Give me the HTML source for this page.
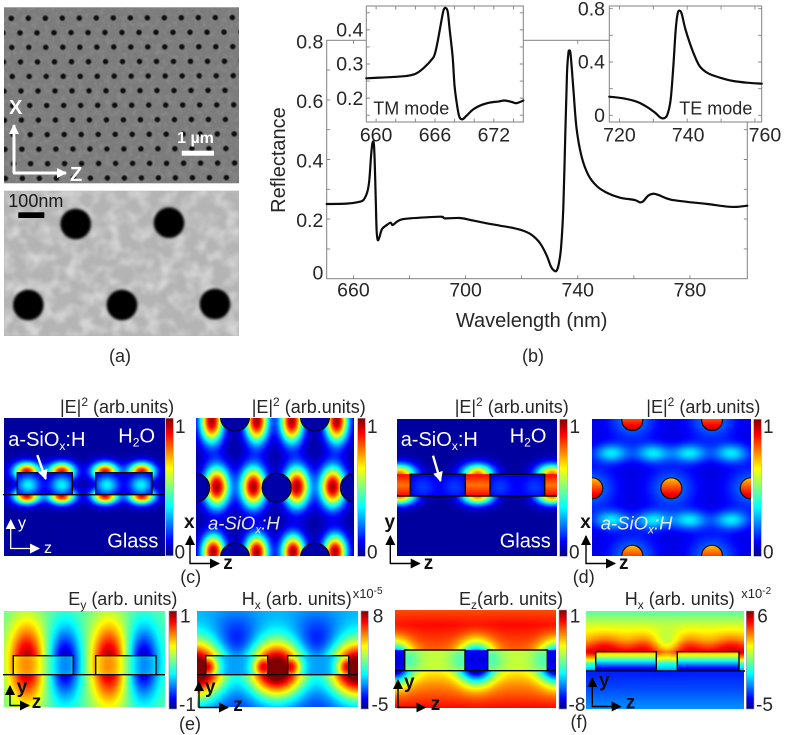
<!DOCTYPE html>
<html><head><meta charset="utf-8"><title>Reflectance and field maps</title>
<style>
html,body{margin:0;padding:0;background:#fff}
#fig{position:relative;width:798px;height:735px;overflow:hidden;background:#fff}
canvas{position:absolute;display:block}
svg{position:absolute;left:0;top:0}
text{font-family:"Liberation Sans",sans-serif;fill:#262626}
.t{font-size:18px}.w{fill:#fff;font-size:20px}.b{font-weight:bold;font-size:19px;fill:#111}
.c{font-size:19px}.cap{font-size:18px;text-anchor:middle}
</style></head>
<body>
<div id="fig">
<canvas id="c1"></canvas>
<canvas id="c2"></canvas>
<canvas id="d1"></canvas>
<canvas id="d2"></canvas>
<canvas id="e1"></canvas>
<canvas id="e2"></canvas>
<canvas id="f1"></canvas>
<canvas id="f2"></canvas>
<svg id="ov" width="798" height="735" viewBox="0 0 798 735">
<defs>
<linearGradient id="jetbar" x1="0" y1="1" x2="0" y2="0">
<stop offset="0" stop-color="#000080"/><stop offset=".11" stop-color="#0000ff"/><stop offset=".36" stop-color="#00ffff"/><stop offset=".5" stop-color="#80ff80"/><stop offset=".64" stop-color="#ffff00"/><stop offset=".89" stop-color="#ff0000"/><stop offset="1" stop-color="#800000"/>
</linearGradient>
<filter id="soft" x="-30%" y="-30%" width="160%" height="160%"><feGaussianBlur stdDeviation=".6"/></filter>
<filter id="soft2" x="-20%" y="-20%" width="140%" height="140%"><feGaussianBlur stdDeviation="1.2"/></filter>
<filter id="fine" x="0" y="0" width="100%" height="100%"><feTurbulence type="fractalNoise" baseFrequency=".18" numOctaves="2" seed="4"/><feColorMatrix values="0 0 0 0 1 0 0 0 0 1 0 0 0 0 1 1.4 0 0 0 -.6"/></filter>
<filter id="blot" x="0" y="0" width="100%" height="100%"><feTurbulence type="fractalNoise" baseFrequency=".075" numOctaves="2" seed="7"/><feColorMatrix values="0 0 0 0 1 0 0 0 0 1 0 0 0 0 1 2.6 0 0 0 -1.05"/><feGaussianBlur stdDeviation="1"/></filter>
<clipPath id="semclip"><rect x="4" y="7.3" width="235" height="176"/></clipPath>
<marker id="ahw" markerUnits="userSpaceOnUse" markerWidth="12" markerHeight="12" refX="9" refY="5" orient="auto"><path d="M0 0L10 5L0 10Z" fill="#fff"/></marker>
<marker id="ahk" markerUnits="userSpaceOnUse" markerWidth="12" markerHeight="12" refX="9" refY="5" orient="auto"><path d="M0 0L10 5L0 10Z" fill="#000"/></marker>
</defs>

<g>
<rect x="4" y="7.3" width="235" height="176" fill="#7c7c7c"/>
<rect x="4" y="7.3" width="235" height="176" filter="url(#fine)" opacity=".16"/>
<g id="semHoles" clip-path="url(#semclip)" filter="url(#soft)"></g>
<path d="M14 173V125" stroke="#fff" stroke-width="3" fill="none" marker-end="url(#ahw)"/>
<path d="M13 173H66" stroke="#fff" stroke-width="3" fill="none" marker-end="url(#ahw)"/>
<text x="9" y="114" style="fill:#fff;font-weight:bold;font-size:20px">X</text>
<text x="70" y="181" style="fill:#fff;font-weight:bold;font-size:20px">Z</text>
<text x="195.500" y="143" text-anchor="middle" style="fill:#fff;font-weight:bold;font-size:16px">1 µm</text>
<rect x="181.700" y="150.700" width="32.300" height="5" fill="#fff"/>
</g>
<g>
<rect x="4" y="190.700" width="235" height="145.300" fill="#b4b4b4"/>
<rect x="4" y="190.700" width="235" height="145.300" filter="url(#blot)" opacity=".45"/>
<g filter="url(#soft2)" fill="#060606">
<circle cx="75.700" cy="224" r="15.300"/><circle cx="169" cy="222.700" r="15.300"/><circle cx="28.300" cy="305" r="15.300"/><circle cx="122" cy="305" r="15.300"/><circle cx="215" cy="304" r="15.300"/>
</g>
<text x="8.300" y="207" style="font-size:18px;fill:#1a1a1a">100nm</text>
<rect x="18.300" y="212.300" width="26" height="5.700" fill="#000"/>
</g>
<text class="cap" x="120" y="362">(a)</text>
<text class="cap" x="533" y="362">(b)</text>

<g id="chartLayer"></g>

<!-- colour bars -->
<g stroke="#9a9ab0" stroke-width=".6">
<rect x="165.700" y="418.300" width="7.600" height="137.400" fill="url(#jetbar)"/>
<rect x="357.700" y="418.300" width="7.600" height="138" fill="url(#jetbar)"/>
<rect x="559.700" y="419.300" width="7.600" height="137" fill="url(#jetbar)"/>
<rect x="753.700" y="419.300" width="7.600" height="137" fill="url(#jetbar)"/>
<rect x="169" y="611" width="7.700" height="98" fill="url(#jetbar)"/>
<rect x="361" y="611" width="7.400" height="98" fill="url(#jetbar)"/>
<rect x="559" y="610" width="7.700" height="99" fill="url(#jetbar)"/>
<rect x="746.300" y="611" width="7.700" height="98" fill="url(#jetbar)"/>
</g>

<!-- structure outlines -->
<g fill="none" stroke="#0a0a0a" stroke-width="1.400">
<path d="M3 494.700H165M17.300 494.700V472.700H72.300V494.700M95.700 494.700V472.700H152V494.700"/>
<path d="M397 496H557M410.300 496V474.300H465.300V496M490 496V474.300H544.700V496"/>
<path d="M3 674.700H165M13.300 674.700V655.700H73.300V674.700M95.700 674.700V655.700H156V674.700"/>
<path d="M197 674.700H358M205.700 674.700V655.700H267.700V674.700M287.700 674.700V655.700H348.700V674.700"/>
<path d="M395 670.700H556M404.700 670.700V650H465V670.700M487.700 670.700V650H547.300V670.700"/>
<path d="M586 671H745M595.700 671V651.700H656.300V671M677.300 671V651.700H739V671"/>
</g>
<g id="holeOutlines" fill="none" stroke="#0a0a0a" stroke-width="1.200"></g>

<!-- panel c-side text -->
<text class="t" x="60" y="413">|E|<tspan dy="-7" font-size="12">2</tspan><tspan dy="7"> (arb.units)</tspan></text>
<text class="w" x="8.300" y="446">a-SiO<tspan dy="4" font-size="12">x</tspan><tspan dy="-4">:H</tspan></text>
<text class="w" x="118.300" y="442.300">H<tspan dy="4" font-size="12">2</tspan><tspan dy="-4">O</tspan></text>
<text class="w" x="107.300" y="547.700">Glass</text>
<path d="M37.300 455L45.700 479" stroke="#fff" stroke-width="2.400" fill="none" marker-end="url(#ahw)"/>
<path d="M10.700 549V520" stroke="#fff" stroke-width="1.300" fill="none" marker-end="url(#ahw)"/>
<path d="M10.200 548.500H39" stroke="#fff" stroke-width="1.300" fill="none" marker-end="url(#ahw)"/>
<text x="18" y="528" style="fill:#fff;font-size:16px">y</text>
<text x="44" y="553" style="fill:#fff;font-size:16px">z</text>
<text class="c" x="175" y="433">1</text>
<text class="c" x="174.500" y="558.300">0</text>

<!-- panel c-top text -->
<text class="t" x="251.700" y="413">|E|<tspan dy="-7" font-size="12">2</tspan><tspan dy="7"> (arb.units)</tspan></text>
<text x="208" y="529.300" style="fill:#e8e8ff;font-size:18.500px;font-style:italic">a-SiO<tspan dy="4" font-size="12">x</tspan><tspan dy="-4">:H</tspan></text>
<text class="b" x="184" y="528">x</text>
<text class="b" x="223.300" y="569">z</text>
<path d="M190 564V536" stroke="#000" stroke-width="1.400" fill="none" marker-end="url(#ahk)"/>
<path d="M189.500 563.500H219" stroke="#000" stroke-width="1.400" fill="none" marker-end="url(#ahk)"/>
<text class="c" x="367" y="433">1</text>
<text class="c" x="367" y="558.300">0</text>
<text class="cap" x="190.700" y="583">(c)</text>

<!-- panel d-side text -->
<text class="t" x="454.700" y="413">|E|<tspan dy="-7" font-size="12">2</tspan><tspan dy="7"> (arb.units)</tspan></text>
<text class="w" x="400.700" y="446">a-SiO<tspan dy="4" font-size="12">x</tspan><tspan dy="-4">:H</tspan></text>
<text class="w" x="509.700" y="442.700">H<tspan dy="4" font-size="12">2</tspan><tspan dy="-4">O</tspan></text>
<text class="w" x="499.700" y="547.700">Glass</text>
<path d="M433 455.700L440.500 481" stroke="#fff" stroke-width="2.400" fill="none" marker-end="url(#ahw)"/>
<text class="b" x="384.500" y="528">y</text>
<text class="b" x="423.700" y="569">z</text>
<path d="M390.300 564V536" stroke="#000" stroke-width="1.400" fill="none" marker-end="url(#ahk)"/>
<path d="M390 563.500H419.700" stroke="#000" stroke-width="1.400" fill="none" marker-end="url(#ahk)"/>
<text class="c" x="569.500" y="433">1</text>
<text class="c" x="569" y="558.300">0</text>

<!-- panel d-top text -->
<text class="t" x="646.300" y="413">|E|<tspan dy="-7" font-size="12">2</tspan><tspan dy="7"> (arb.units)</tspan></text>
<text x="600.700" y="529.300" style="fill:#e8e8ff;font-size:18.500px;font-style:italic">a-SiO<tspan dy="4" font-size="12">x</tspan><tspan dy="-4">:H</tspan></text>
<text class="b" x="580.300" y="528">x</text>
<text class="b" x="619" y="569">z</text>
<path d="M586 564V536" stroke="#000" stroke-width="1.400" fill="none" marker-end="url(#ahk)"/>
<path d="M585.500 563.500H615" stroke="#000" stroke-width="1.400" fill="none" marker-end="url(#ahk)"/>
<text class="c" x="763" y="433">1</text>
<text class="c" x="763" y="558.300">0</text>
<text class="cap" x="583.700" y="583">(d)</text>

<!-- row e -->
<text class="t" x="68.300" y="605">E<tspan dy="4" font-size="12">y</tspan><tspan dy="-4"> (arb. units)</tspan></text>
<text class="t" x="241.700" y="605">H<tspan dy="4" font-size="12">x</tspan><tspan dy="-4"> (arb. units)</tspan></text>
<text x="352.700" y="598" style="font-size:13px">x10<tspan dy="-4" font-size="10">-5</tspan></text>
<text class="c" x="180" y="622.300">1</text>
<text class="c" x="179" y="711">-1</text>
<text class="c" x="372.700" y="622.300">8</text>
<text class="c" x="371.500" y="711">-5</text>
<path d="M10 706V686" stroke="#000" stroke-width="1.400" fill="none" marker-end="url(#ahk)"/>
<path d="M9.500 705.500H29" stroke="#000" stroke-width="1.400" fill="none" marker-end="url(#ahk)"/>
<text class="b" x="16.700" y="693">y</text>
<text class="b" x="31.700" y="708">z</text>
<path d="M199 708V682" stroke="#000" stroke-width="1.400" fill="none" marker-end="url(#ahk)"/>
<path d="M198.500 707.500H228" stroke="#000" stroke-width="1.400" fill="none" marker-end="url(#ahk)"/>
<text class="b" x="205" y="693">y</text>
<text class="b" x="233.300" y="711">z</text>
<text class="cap" x="190" y="730">(e)</text>

<!-- row f -->
<text class="t" x="459" y="605">E<tspan dy="4" font-size="12">z</tspan><tspan dy="-4">(arb. units)</tspan></text>
<text class="t" x="624.700" y="605">H<tspan dy="4" font-size="12">x</tspan><tspan dy="-4"> (arb. units)</tspan></text>
<text x="741.300" y="598" style="font-size:13px">x10<tspan dy="-4" font-size="10">-2</tspan></text>
<text class="c" x="569.700" y="622.300">1</text>
<text class="c" x="568.500" y="711">-8</text>
<text class="c" x="757.300" y="622.300">6</text>
<text class="c" x="756" y="711">-5</text>
<path d="M398 708V680" stroke="#000" stroke-width="1.400" fill="none" marker-end="url(#ahk)"/>
<path d="M397.500 707.500H425.300" stroke="#000" stroke-width="1.400" fill="none" marker-end="url(#ahk)"/>
<text class="b" x="404" y="688">y</text>
<text class="b" x="430.700" y="710">z</text>
<path d="M592.300 707V678" stroke="#000" stroke-width="1.400" fill="none" marker-end="url(#ahk)"/>
<path d="M591.800 706.500H620.700" stroke="#000" stroke-width="1.400" fill="none" marker-end="url(#ahk)"/>
<text class="b" x="599" y="686.700">y</text>
<text class="b" x="625.700" y="708.300">z</text>
<text class="cap" x="579" y="728">(f)</text>
</svg>
</div>

<script>
// ---- chart data ----
const mainWavelengths = [650,657.1,661.3,663.1,664.5,665.2,665.8,666.3,666.8,667.1,667.5,667.8,668.2,668.8,669.7,671.4,672.8,673.5,675,676.7,679.7,685.7,691,692.2,697.5,702.3,707.1,711.8,716.6,720.1,723.1,726.1,728.4,730,731.1,732,732.8,733.6,734.4,735.1,735.7,736.2,736.5,737,738,739.1,740.9,743.3,746.3,749.8,754.6,759.9,761.7,762.9,764.7,766.5,768.3,772.4,778.4,785.5,792.6,796.2,800];
const mainReflectance = [.2506,.2518,.2573,.2641,.292,.331,.4095,.4543,.4543,.398,.264,.163,.13,.139,.166,.18,.188,.18,.191,.199,.2025,.206,.208,.2025,.2036,.195,.186,.178,.17,.161,.147,.119,.079,.04,.027,.027,.051,.107,.242,.488,.689,.756,.765,.751,.633,.505,.41,.348,.311,.289,.272,.264,.256,.26,.279,.285,.281,.266,.258,.251,.242,.241,.245];
const tmWavelengths = [659,660.4,661.75,663.1,664,664.8,665.7,666,666.3,666.7,666.9,667.1,667.3,667.5,667.8,668,668.3,668.5,668.8,669.2,669.9,670.75,671.6,672.45,673.1,673.8,674.25,674.7,675];
const tmReflectance = [.258,.26,.262,.265,.271,.287,.314,.331,.37,.434,.46,.464,.453,.4,.321,.234,.17,.144,.138,.148,.167,.18,.187,.19,.193,.189,.185,.189,.193];
const teWavelengths = [717,721.1,725.1,728,730.5,732,733,734.1,735.1,735.9,736.6,737.2,737.8,738.4,739.4,740.8,742.3,743.8,746.2,749.7,753.6,757.6,762];
const teReflectance = [.14,.1275,.1025,.065,.02,-.015,-.0225,.0025,.115,.365,.64,.765,.785,.76,.6525,.54,.44,.365,.315,.2825,.2575,.245,.2375];
const mainXLabels = [660,700,740,780];
const mainXTicks = [660,680,700,720,740,760,780];
const mainYLabels = [0,0.2,0.4,0.6,0.8];
const mainYTicks = [0.1,0.2,0.3,0.4,0.5,0.6,0.7];
const tmXLabels = [660,666,672];
const tmXTicks = [660,662,664,666,668,670,672,674];
const tmYLabels = [0.2,0.3,0.4];
const tmYTicks = [0.15,0.2,0.25,0.3,0.35,0.4,0.45];
const teXLabels = [720,740,760];
const teXTicks = [720,730,740,750,760];
const teYLabels = [0,0.4,0.8];
const teYTicks = [0,0.2,0.4,0.6,0.8];

const NS = 'http://www.w3.org/2000/svg';
function svgEl(tag, parent){ const e = document.createElementNS(NS, tag); parent.appendChild(e); return e; }
function linearAxis(d0, d1, r0, r1){ return v => r0 + (v - d0) / (d1 - d0) * (r1 - r0); }
function smoothPath(px){
  let d = 'M' + px[0][0].toFixed(2) + ' ' + px[0][1].toFixed(2);
  for (let i = 0; i < px.length - 1; i++) {
    const p0 = px[Math.max(0, i - 1)], p1 = px[i], p2 = px[i + 1], p3 = px[Math.min(px.length - 1, i + 2)];
    const c1x = p1[0] + (p2[0] - p0[0]) / 6, c1y = p1[1] + (p2[1] - p0[1]) / 6;
    const c2x = p2[0] - (p3[0] - p1[0]) / 6, c2y = p2[1] - (p3[1] - p1[1]) / 6;
    d += `C${c1x.toFixed(2)} ${c1y.toFixed(2)} ${c2x.toFixed(2)} ${c2y.toFixed(2)} ${p2[0].toFixed(2)} ${p2[1].toFixed(2)}`;
  }
  return d;
}

function drawPlot(c){
  const g = svgEl('g', document.getElementById('chartLayer'));
  
  
  const sx = linearAxis(c.xd[0], c.xd[1], c.l, c.r), sy = linearAxis(c.yd[0], c.yd[1], c.b, c.t);
  const frame = svgEl('rect', g);
  
  
  frame.setAttribute('x', c.l); frame.setAttribute('y', c.t);
  frame.setAttribute('width', c.r - c.l); frame.setAttribute('height', c.b - c.t);
  frame.setAttribute('fill', '#fff'); frame.setAttribute('stroke', '#808080'); frame.setAttribute('stroke-width', '1');
  let d = '';
  c.xTicks.forEach(v => { const x = sx(v) + c.tdx; d += `M${x} ${c.b}V${c.b - 3.5}M${x} ${c.t}V${c.t + 3.5}`; });
  c.yTicks.forEach(v => { const y = sy(v); d += `M${c.l} ${y}H${c.l + 3.5}M${c.r} ${y}H${c.r - 3.5}`; });
  const ticks = svgEl('path', g);
  
  
  ticks.setAttribute('d', d); ticks.setAttribute('stroke', '#808080'); ticks.setAttribute('fill', 'none'); ticks.setAttribute('stroke-width', '.9');
  const line = svgEl('path', g);
  
  
  line.setAttribute('d', smoothPath(c.xs.map((v, i) => [sx(v), sy(c.ys[i])])));
  line.setAttribute('fill', 'none'); line.setAttribute('stroke', '#0c0c0c'); line.setAttribute('stroke-width', '2.2');
  line.setAttribute('stroke-linejoin', 'round'); line.setAttribute('stroke-linecap', 'round');
  c.xLabels.forEach((v, i) => {
    const t = svgEl('text', g);
    
    
    t.setAttribute('x', sx(v) + c.tdx + (c.xShift ? c.xShift[i] : 0)); t.setAttribute('y', c.xBase);
    t.setAttribute('text-anchor', 'middle'); t.setAttribute('font-size', '19.5'); t.textContent = v;
  });
  c.yLabels.forEach(v => {
    const t = svgEl('text', g);
    
    
    t.setAttribute('x', c.yRight); t.setAttribute('y', sy(v) + (v === 0 ? c.zeroDy : c.yDy));
    t.setAttribute('text-anchor', 'end'); t.setAttribute('font-size', '19.5'); t.textContent = v === 0 ? '0' : v.toFixed(1);
  });
  return g;
}
const mainG = drawPlot({name:'main-plot',xd:[650,800],yd:[0,0.8],l:326.7,r:747.3,t:40.3,b:278.7,xs:mainWavelengths,ys:mainReflectance,xTicks:mainXTicks,yTicks:mainYTicks,xLabels:mainXLabels,yLabels:mainYLabels,xBase:296.7,yRight:323.3,yDy:8,zeroDy:0.6,tdx:-1.3});
const xTitle = svgEl('text', mainG);


xTitle.setAttribute('x', 531.7); xTitle.setAttribute('y', 327); xTitle.setAttribute('text-anchor', 'middle'); xTitle.setAttribute('font-size', '20');
xTitle.textContent = 'Wavelength (nm)';
const yTitle = svgEl('text', mainG);


yTitle.setAttribute('transform', 'translate(285 160) rotate(-90)'); yTitle.setAttribute('text-anchor', 'middle'); yTitle.setAttribute('font-size', '20');
yTitle.textContent = 'Reflectance';
const tmG = drawPlot({name:'tm-inset',xd:[659,675],yd:[0.13,0.47],l:366.3,r:523.3,t:6,b:122,xs:tmWavelengths,ys:tmReflectance,xTicks:tmXTicks,yTicks:tmYTicks,xLabels:tmXLabels,yLabels:tmYLabels,xBase:141.7,yRight:363.3,yDy:6.7,zeroDy:6.7,tdx:0});
const tmLab = svgEl('text', tmG);


tmLab.setAttribute('x', 373.3); tmLab.setAttribute('y', 114.3); tmLab.setAttribute('font-size', '18');
tmLab.textContent = 'TM mode';
const teG = drawPlot({name:'te-inset',xd:[717,762],yd:[-0.05,0.82],l:609.3,r:761.7,t:6,b:122,xs:teWavelengths,ys:teReflectance,xTicks:teXTicks,yTicks:teYTicks,xLabels:teXLabels,yLabels:teYLabels,xBase:141.7,yRight:605,yDy:6.7,zeroDy:6.7,tdx:0,xShift:[0,1,10]});
const teLab = svgEl('text', teG);


teLab.setAttribute('x', 679.3); teLab.setAttribute('y', 114.3); teLab.setAttribute('font-size', '18');
teLab.textContent = 'TE mode';

// ---- SEM lattice ----
(function(){
  const g = document.getElementById('semHoles');
  for (let k = 0; k < 13; k++) {
    for (let n = -1; n < 16; n++) {
      const y0 = 18.3 + 14.55 * k;
      const x = 11.3 + 8.5 * (k % 2) + 0.016 * (y0 - 18) + 17 * n;
      const y = y0 - 0.0035 * (x - 11);
      const c = svgEl('circle', g);
      
      
      c.setAttribute('cx', x.toFixed(1)); c.setAttribute('cy', y.toFixed(1)); c.setAttribute('r', '2.7'); c.setAttribute('fill', '#080808');
    }
  }
})();

// ---- simulated field maps (illustrative continuous images) ----
function jet(v){
  const f = t => Math.max(0, Math.min(1, 1.5 - Math.abs(4 * v - t)));
  return [f(3) * 255, f(2) * 255, f(1) * 255];
}
function gaussSum(list, x, y){
  let s = 0;
  for (const b of list) { const dx = (x - b[0]) / b[2], dy = (y - b[1]) / b[3]; s += b[4] * Math.exp(-.5 * (dx * dx + dy * dy)); }
  return s;
}
function profile(p, y){
  if (typeof p === 'number') return p;
  if (y <= p[0][0]) return p[0][1];
  for (let i = 1; i < p.length; i++) if (y <= p[i][0]) {
    const t = (y - p[i-1][0]) / (p[i][0] - p[i-1][0]);
    return p[i-1][1] + t * (p[i][1] - p[i-1][1]);
  }
  return p[p.length - 1][1];
}
function paintField(s){
  const cv = document.getElementById(s.id);
  const X = Math.round(s.x), Y = Math.round(s.y), W = Math.round(s.w), H = Math.round(s.h);
  cv.width = W; cv.height = H; cv.style.left = X + 'px'; cv.style.top = Y + 'px';
  const ctx = cv.getContext('2d'), im = ctx.createImageData(W, H);
  for (let j = 0; j < H; j++) for (let i = 0; i < W; i++) {
    const x = X + i + .5, y = Y + j + .5; let v;
    const inRect = (s.rects || []).some(r => x >= r[0] && x <= r[2] && y >= r[1] && y <= r[3]);
    const gap = (s.gaps || []).find(r => x >= r[0] && x <= r[2] && y >= r[1] && y <= r[3]);
    const hole = (s.holes || []).find(h => (x - h[0]) ** 2 + (y - h[1]) ** 2 <= h[2] * h[2]);
    if (hole && s.holeVal) v = s.holeVal(x - hole[0], y - hole[1], hole[2]);
    else if (gap) v = gap[4] + gap[5] * Math.abs(y - (gap[1] + gap[3]) / 2) / ((gap[3] - gap[1]) / 2);
    else if (inRect) v = profile(s.inBase, y) + gaussSum(s.inn, x, y);
    else v = profile(s.base, y) + gaussSum(s.out, x, y);
    const c = jet(Math.max(0, Math.min(1, v))), o = (j * W + i) * 4;
    im.data[o] = c[0]; im.data[o+1] = c[1]; im.data[o+2] = c[2]; im.data[o+3] = 255;
  }
  ctx.putImageData(im, 0, 0);
}
function capPairs(list, y, sx, sy, a){ return list.map(x => [x, y, sx, sy, a]); }

(function(){
  const holesC = [[276.7,487.7,14.5],[195,487.7,14.5],[355,487.7,14.5],[235,416.7,14.5],[315,416.7,14.5],[235,557.7,14.5],[315,557.7,14.5]];
  const holesD = [[671.3,488.3,10.5],[592.3,488.3,10.5],[750.7,488.3,10.5],[632.3,420,10.5],[712,420,10.5],[632.3,555.7,10.5],[712,555.7,10.5]];
  const specs = [
   {id:'c1',x:4,y:418,w:161,h:138,base:.03,inBase:.07,rects:[[17.3,472.7,72.3,494.7],[95.7,472.7,152,494.7]],
    out:[].concat(capPairs([26.7,61.7,105,141.7],471.5,9,6.2,.85),capPairs([26.7,61.7,105,141.7],496,9,5.5,.85)),
    inn:capPairs([28.3,61.7,107,141],485,8,7,.3)},
   {id:'c2',x:196,y:418,w:158,h:138,base:.03,holes:holesC,holeVal:()=>.04,rects:[],inn:[],
    out:[].concat(capPairs([216.7,253.3,296.7,332.7],486.7,8.8,14,.93),capPairs([211.7,256.7,291.7,336.7],421,8,15,.93),capPairs([213.3,256.7,293,335],552,8,12,.93))},
   {id:'d1',x:397,y:419,w:160,h:137,base:.03,inBase:.11,rects:[[410.3,474.3,465.3,496],[490,474.3,544.7,496]],
    gaps:[[397,474.3,410.3,496,.76,.11],[465.3,474.3,490,496,.76,.11],[544.7,474.3,557.3,496,.76,.11]],
    out:[].concat(capPairs([477.6,400,552],474,11,7,.72),capPairs([477.6,400,552],496,11,6,.72)),
    inn:capPairs([423,455,500,535],487,8,7,.07)},
   {id:'d2',x:592,y:419,w:159,h:137,base:.09,holes:holesD,holeVal:(dx,dy,r)=>.81+.13*dy/r,rects:[],inn:[],
    out:[].concat(holesD.map(h=>[h[0],h[1],16,14,.16]),capPairs([611.3,653,689.7,731.3],453.3,12,6.5,.26),capPairs([611.3,653,689.7,731.3],520,12,6.5,.26))},
   {id:'e1',x:4,y:611,w:161,h:96,base:.47,inBase:.47,rects:[[13.3,655.7,73.3,674.7],[95.7,655.7,156,674.7]],
    out:[].concat(capPairs([26.7,109],663,12.5,28,.5),capPairs([65,143.3],663,11,25,-.43)),
    inn:[].concat(capPairs([26.7,109],665,14,20,.27),capPairs([65,143.3],665,12,20,-.22))},
   {id:'e2',x:197,y:611,w:161,h:96,base:[[611,.3],[640,.28],[672,.3],[707,.22]],inBase:.28,
    rects:[[205.7,655.7,267.7,674.7],[287.7,655.7,348.7,674.7]],
    out:[].concat(capPairs([196.7,276.7,357],670,20,20,.85),capPairs([236.7,316.7],646,17,20,-.2),capPairs([236.7,316.7],695,28,16,-.08)),
    inn:capPairs([207,264,290,348],667,8,9,.62)},
   {id:'f1',x:395,y:610,w:161,h:98,base:[[610,.8],[625,.87],[650,.78],[672,.64],[685,.74],[708,.87]],inBase:.57,
    rects:[[404.7,650,465,670.7],[487.7,650,547.3,670.7]],
    gaps:[[395,650,404.7,670.7,.1,.02],[465,650,487.7,670.7,.1,.02],[547.3,650,556.3,670.7,.1,.02]],
    out:capPairs([476.3,394,557],663,12,14,-.74),
    inn:capPairs([408,462,491,544],660,9,9,-.12)},
   {id:'f2',x:586,y:611,w:158,h:98,base:[[611,.46],[625,.58],[640,.68],[648,.8],[652,.88],[659,.66],[664,.42],[670,.3],[672,.15],[690,.2],[709,.27]],
    inBase:[[651.7,.74],[657,.54],[662,.34],[668,.13],[671,.1]],
    rects:[[595.7,651.7,656.3,671],[677.3,651.7,739,671]],
    out:[].concat(capPairs([604.7,648,684.7,731.3],645,12,8,.1),capPairs([666.7],646,11,10,-.2)),
    inn:[]}
  ];
  specs.forEach(paintField);
  const ho = document.getElementById('holeOutlines');
  holesC.concat(holesD).forEach(h => {
    const inC = h[0] < 400;
    const minX = inC ? 196 : 592, maxX = inC ? 354 : 751, minY = inC ? 418 : 419, maxY = 556;
    const clipId = inC ? 'clipC' : 'clipD';
    if (!document.getElementById(clipId)) {
      const cp = svgEl('clipPath', ho); cp.setAttribute('id', clipId);
      const r = svgEl('rect', cp); r.setAttribute('x', minX); r.setAttribute('y', minY); r.setAttribute('width', maxX - minX); r.setAttribute('height', maxY - minY);
    }
    const c = svgEl('circle', ho);
    
    
    c.setAttribute('cx', h[0]); c.setAttribute('cy', h[1]); c.setAttribute('r', h[2]); c.setAttribute('clip-path', `url(#${clipId})`);
  });
})();
</script>
</body></html>
